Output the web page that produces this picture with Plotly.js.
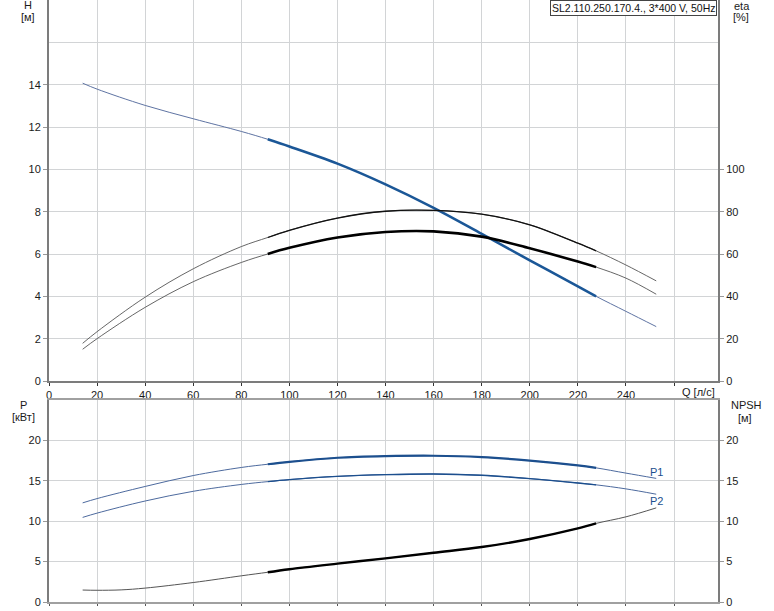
<!DOCTYPE html>
<html>
<head>
<meta charset="utf-8">
<script src="https://cdn.plot.ly/plotly-3.0.1.min.js"></script>
<style>html,body{margin:0;padding:0;background:#fff}#chart{width:774px;height:611px}</style>
</head>
<body>
<div id="chart"></div>
<script>
// ---- data ----
const Q      = [14, 20, 40, 60, 80, 91, 100, 120, 140, 160, 180, 200, 220, 227.6, 240, 252.6];
const H      = [14.07, 13.79, 13.02, 12.39, 11.79, 11.42, 11.08, 10.27, 9.29, 8.18, 6.95, 5.70, 4.47, 4.0, 3.29, 2.57];
const ETA_A  = [17.8, 23.3, 39.6, 53.0, 63.5, 67.8, 71.2, 77.0, 80.2, 80.6, 78.8, 73.8, 65.1, 61.5, 54.8, 47.3];
const ETA_B  = [15.0, 20.0, 34.8, 46.9, 56.0, 60.0, 62.9, 67.8, 70.4, 70.7, 68.2, 62.7, 56.4, 53.8, 48.6, 41.0];
const P1     = [12.27, 12.8, 14.3, 15.65, 16.65, 17.05, 17.35, 17.85, 18.05, 18.1, 17.93, 17.5, 16.9, 16.6, 15.95, 15.3];
const P2     = [10.47, 11.0, 12.5, 13.7, 14.55, 14.9, 15.15, 15.55, 15.76, 15.84, 15.68, 15.27, 14.73, 14.5, 14.0, 13.34];
const Q_NPSH = [14, 20, 30, 40, 60, 80, 91, 100, 120, 140, 160, 180, 200, 220, 227.6, 240, 252.6];
const NPSH   = [1.48, 1.45, 1.5, 1.72, 2.41, 3.24, 3.68, 4.06, 4.75, 5.4, 6.1, 6.8, 7.8, 9.11, 9.73, 10.54, 11.65];
const OP_MIN = 91, OP_MAX = 227.6;   // bold operating range
const X_TICKS = [0, 20, 40, 60, 80, 100, 120, 140, 160, 180, 200, 220, 240, 260];
const X_TICKTEXT = ['0','20','40','60','80','100','120','140','160','180','200','220','240',''];
const H_TICKS = [0, 2, 4, 6, 8, 10, 12, 14];
const ETA_TICKS = [0, 20, 40, 60, 80, 100];
const P_TICKS = [0, 5, 10, 15, 20];
const TITLE = 'SL2.110.250.170.4., 3*400 V, 50Hz';

function pick(q, v, f) {
  const xs = [], ys = [];
  q.forEach((qq, i) => { if (f(qq)) { xs.push(qq); ys.push(v[i]); } });
  return {x: xs, y: ys};
}
function curve(q, v, xa, ya, thin, thick) {
  const mid = pick(q, v, qq => qq >= OP_MIN && qq <= OP_MAX);
  return [
    {type: 'scatter', mode: 'lines', x: q, y: v, xaxis: xa, yaxis: ya,
     line: {color: thin.color, width: thin.width, shape: 'spline', smoothing: 1}, hoverinfo: 'skip'},
    {type: 'scatter', mode: 'lines', x: mid.x, y: mid.y, xaxis: xa, yaxis: ya,
     line: {color: thick.color, width: thick.width, shape: 'spline', smoothing: 1}, hoverinfo: 'skip'}
  ];
}

const traces = [].concat(
  curve(Q, ETA_A, 'x', 'y2', {color: '#555', width: 0.9}, {color: '#111', width: 1.3}),
  curve(Q, ETA_B, 'x', 'y2', {color: '#555', width: 0.9}, {color: '#000', width: 2.6}),
  curve(Q, H, 'x', 'y', {color: '#5f74a3', width: 1}, {color: '#1b5797', width: 2.6}),
  curve(Q, P1, 'x2', 'y3', {color: '#4d6a9e', width: 1}, {color: '#1c4f8e', width: 2.2}),
  curve(Q, P2, 'x2', 'y3', {color: '#4d6a9e', width: 1}, {color: '#1c4f8e', width: 1.4}),
  curve(Q_NPSH, NPSH, 'x2', 'y4', {color: '#555', width: 1}, {color: '#000', width: 2.4})
);

const GRID = '#d2d4d6';
const AX = '#7c7c7c';
const FONT = {family: 'Liberation Sans, Arial, sans-serif', size: 11, color: '#1a1a1a'};

function px2x(p) { return (p - 49) / 669; }
function px2y(p) { return (602 - p) / 602; }
function lab(text, xp, yp, extra) {
  return Object.assign({text: text, xref: 'paper', yref: 'paper', x: px2x(xp), y: px2y(yp),
    xanchor: 'center', yanchor: 'middle', showarrow: false, font: FONT}, extra || {});
}

const layout = {
  width: 774, height: 611,
  margin: {l: 49, r: 56, t: 0, b: 9, pad: 0},
  paper_bgcolor: '#fff', plot_bgcolor: '#fff',
  showlegend: false,
  font: FONT,
  xaxis: {
    domain: [0, 1], anchor: 'y', range: [0, 278.3],
    tickmode: 'array', tickvals: X_TICKS, ticktext: X_TICKTEXT,
    showgrid: true, gridcolor: GRID, gridwidth: 1, zeroline: false,
    showline: true, linecolor: AX, linewidth: 2,
    ticks: 'outside', ticklen: 3, tickcolor: '#333', tickfont: FONT
  },
  yaxis: {
    domain: [px2y(381), 1], anchor: 'x', range: [0, 18],
    tickmode: 'array', tickvals: H_TICKS,
    showgrid: true, gridcolor: GRID, gridwidth: 1, zeroline: false,
    minor: {tickmode: 'linear', tick0: 0, dtick: 2, showgrid: true, gridcolor: GRID, gridwidth: 1, ticks: ''},
    showline: true, linecolor: AX, linewidth: 2,
    ticks: 'outside', ticklen: 4, tickcolor: '#999', tickfont: FONT
  },
  yaxis2: {
    overlaying: 'y', side: 'right', anchor: 'x', range: [0, 180],
    tickmode: 'array', tickvals: ETA_TICKS,
    showgrid: false, zeroline: false,
    showline: true, linecolor: AX, linewidth: 2,
    ticks: 'outside', ticklen: 4, tickcolor: '#999', tickfont: FONT
  },
  xaxis2: {
    domain: [0, 1], anchor: 'y3', matches: 'x', range: [0, 278.3],
    tickmode: 'array', tickvals: X_TICKS, showticklabels: false,
    showgrid: true, gridcolor: GRID, gridwidth: 1, zeroline: false,
    showline: true, mirror: true, linecolor: '#a0a0a0', linewidth: 2,
    ticks: 'outside', ticklen: 2, tickcolor: '#555'
  },
  yaxis3: {
    domain: [0, px2y(400)], anchor: 'x2', range: [0, 25],
    tickmode: 'array', tickvals: P_TICKS,
    showgrid: true, gridcolor: GRID, gridwidth: 1, zeroline: false,
    showline: true, linecolor: AX, linewidth: 2,
    ticks: 'outside', ticklen: 4, tickcolor: '#999', tickfont: FONT
  },
  yaxis4: {
    overlaying: 'y3', side: 'right', anchor: 'x2', range: [0, 25],
    tickmode: 'array', tickvals: P_TICKS,
    showgrid: false, zeroline: false,
    showline: true, linecolor: AX, linewidth: 2,
    ticks: 'outside', ticklen: 4, tickcolor: '#999', tickfont: FONT
  },
  annotations: [
    {text: TITLE, xref: 'paper', yref: 'paper', x: px2x(717), y: 1, xanchor: 'right', yanchor: 'top',
     showarrow: false, bgcolor: '#fff', bordercolor: '#444', borderwidth: 1, borderpad: 1,
     font: {family: FONT.family, size: 10.5, color: '#111'}},
    lab('H', 28, 5),
    lab('[м]', 28, 17),
    lab('eta', 742, 6),
    lab('[%]', 741, 17),
    lab('Q [л/с]', 698, 392),
    lab('P', 23, 405),
    lab('[кВт]', 23, 417),
    lab('NPSH', 746, 405),
    lab('[м]', 745, 418),
    {text: 'P1', xref: 'x2', yref: 'y3', x: 252.6, y: 16.05, xanchor: 'center', yanchor: 'middle',
     showarrow: false, font: {family: FONT.family, size: 11, color: '#1c4f8e'}},
    {text: 'P2', xref: 'x2', yref: 'y3', x: 252.6, y: 12.5, xanchor: 'center', yanchor: 'middle',
     showarrow: false, font: {family: FONT.family, size: 11, color: '#1c4f8e'}}
  ]
};

Plotly.newPlot('chart', traces, layout, {staticPlot: true, displayModeBar: false});
</script>
</body>
</html>
